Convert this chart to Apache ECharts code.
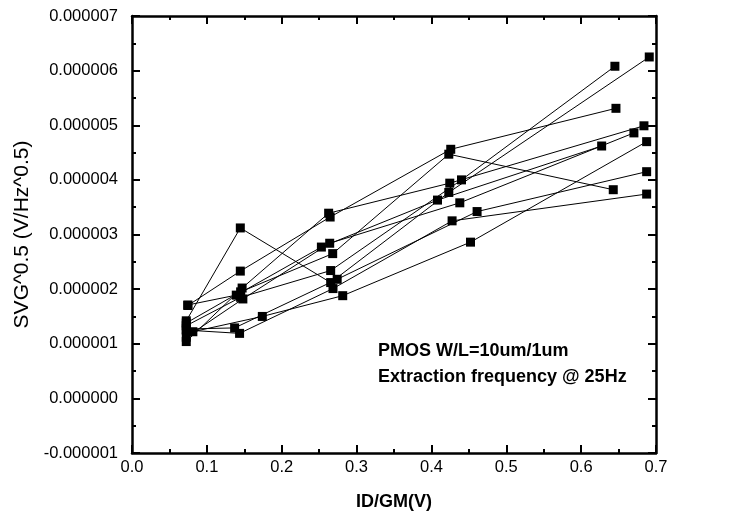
<!DOCTYPE html>
<html>
<head>
<meta charset="utf-8">
<script src="https://cdn.jsdelivr.net/npm/echarts@6/dist/echarts.min.js"></script>
<style>
html,body{margin:0;padding:0;background:#fff;}
#chart{width:737px;height:519px;}
</style>
</head>
<body>
<div id="chart"></div>
<script>
// Data (x = ID/GM in V, y = SVG^0.5 in V/Hz^0.5)
const x1 = [0.0725, 0.1447, 0.2654, 0.4232, 0.6910];
const y1 = [1.42e-6, 3.12e-6, 2.12e-6, 3.77e-6, 6.25e-6];
const x2 = [0.0746, 0.1447, 0.2647, 0.4258, 0.6465];
const y2 = [1.70e-6, 2.33e-6, 3.32e-6, 4.56e-6, 5.31e-6];
const x3 = [0.0746, 0.1393, 0.2530, 0.4081, 0.6274];
const y3 = [1.71e-6, 1.89e-6, 2.77e-6, 3.63e-6, 4.62e-6];
const x4 = [0.0725, 0.1471, 0.2627, 0.4245, 0.6839];
const y4 = [1.04e-6, 2.02e-6, 3.39e-6, 3.94e-6, 4.99e-6];
const x5 = [0.0725, 0.1451, 0.2681, 0.4232, 0.6429];
const y5 = [1.38e-6, 1.95e-6, 2.65e-6, 4.47e-6, 3.82e-6];
const x6 = [0.0725, 0.1451, 0.2654, 0.4402, 0.6451];
const y6 = [1.33e-6, 1.85e-6, 2.34e-6, 4.00e-6, 6.08e-6];
const x7 = [0.0725, 0.1481, 0.2641, 0.4379, 0.6705];
const y7 = [1.12e-6, 1.82e-6, 2.84e-6, 3.58e-6, 4.86e-6];
const x8 = [0.0725, 0.1371, 0.2741, 0.4610, 0.6875];
const y8 = [1.27e-6, 1.29e-6, 2.18e-6, 3.42e-6, 4.15e-6];
const x9 = [0.0725, 0.1437, 0.2685, 0.4276, 0.6875];
const y9 = [1.25e-6, 1.19e-6, 2.01e-6, 3.25e-6, 3.74e-6];
const x10 = [0.0813, 0.1741, 0.2815, 0.4522, 0.6875];
const y10 = [1.22e-6, 1.50e-6, 1.88e-6, 2.86e-6, 4.70e-6];

const xTicks = [0, 0.1, 0.2, 0.3, 0.4, 0.5, 0.6, 0.7];
const yTicks = [-0.000001, 0, 0.000001, 0.000002, 0.000003, 0.000004, 0.000005, 0.000006, 0.000007];
const xTitle = 'ID/GM(V)';
const yTitle = 'SVG^0.5 (V/Hz^0.5)';
const note1 = 'PMOS W/L=10um/1um';
const note2 = 'Extraction frequency @ 25Hz';

const allX = [x1,x2,x3,x4,x5,x6,x7,x8,x9,x10];
const allY = [y1,y2,y3,y4,y5,y6,y7,y8,y9,y10];

const FONT = '"Liberation Sans", Arial, sans-serif';
const chart = echarts.init(document.getElementById('chart'), null, {renderer:'canvas'});

const frameLine = {show:true, onZero:false, lineStyle:{color:'#000', width:2.5}};
const tickIn = {show:true, inside:true, length:8, lineStyle:{color:'#000', width:2}};
const minorIn = {show:true, splitNumber:2, length:4, lineStyle:{color:'#000', width:2}};

const series = allX.map((xs, k) => ({
  type:'line',
  xAxisIndex:0, yAxisIndex:0,
  data: xs.map((v, i) => [v, allY[k][i]]),
  symbol:'rect', symbolSize:9,
  itemStyle:{color:'#000'},
  lineStyle:{color:'#000', width:1},
  animation:false,
  z:3
}));

chart.setOption({
  animation:false,
  backgroundColor:'#fff',
  grid:{left:132, right:81, top:16, bottom:66, containLabel:false},
  xAxis:[
    {type:'value', position:'bottom', min:xTicks[0], max:xTicks[xTicks.length-1], interval:0.1,
     axisLine:frameLine, axisTick:tickIn, minorTick:minorIn, splitLine:{show:false},
     axisLabel:{color:'#000', fontSize:16.5, fontFamily:FONT, margin:6, formatter:v=>v.toFixed(1)},
     name:xTitle, nameLocation:'middle', nameGap:40,
     nameTextStyle:{color:'#000', fontSize:18, fontWeight:'bold', fontFamily:FONT}},
    {type:'value', position:'top', min:xTicks[0], max:xTicks[xTicks.length-1], interval:0.1,
     axisLine:frameLine, axisTick:tickIn, minorTick:minorIn, splitLine:{show:false},
     axisLabel:{show:false}}
  ],
  yAxis:[
    {type:'value', position:'left', min:yTicks[0], max:yTicks[yTicks.length-1], interval:0.000001,
     axisLine:frameLine, axisTick:tickIn, minorTick:minorIn, splitLine:{show:false},
     axisLabel:{color:'#000', fontSize:16.5, fontFamily:FONT, margin:14, formatter:v=>v.toFixed(6)},
     name:yTitle, nameLocation:'middle', nameGap:96, nameRotate:90,
     nameTextStyle:{color:'#000', fontSize:21, fontFamily:FONT}},
    {type:'value', position:'right', min:yTicks[0], max:yTicks[yTicks.length-1], interval:0.000001,
     axisLine:frameLine, axisTick:tickIn, minorTick:minorIn, splitLine:{show:false},
     axisLabel:{show:false}}
  ],
  graphic:[
    {type:'text', left:378, top:342, z:10,
     style:{text:note1, fill:'#000', font:'bold 18px ' + FONT}},
    {type:'text', left:378, top:368, z:10,
     style:{text:note2, fill:'#000', font:'bold 18px ' + FONT}}
  ],
  series:series
});
</script>
</body>
</html>
